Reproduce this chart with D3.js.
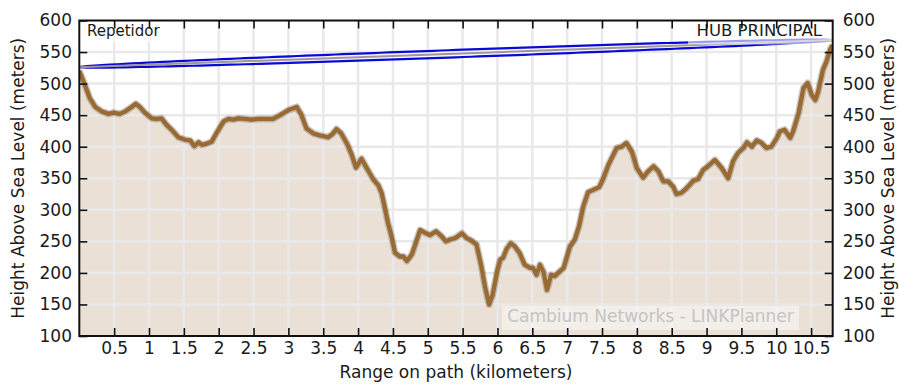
<!DOCTYPE html>
<html>
<head>
<meta charset="utf-8">
<script src="https://cdn.jsdelivr.net/npm/d3@7/dist/d3.min.js"></script>
<style>
  body { margin: 0; background: #fff; }
  text { font-family: "DejaVu Sans", sans-serif; fill: #1a1a1a; }
</style>
</head>
<body>
<svg id="chart" width="899" height="385"></svg>
<script>
// Terrain profile along the link path
const distanceKm = [0, 0.08, 0.15, 0.23, 0.32, 0.42, 0.49, 0.58, 0.66, 0.75,
  0.81, 0.87, 0.94, 1.04, 1.11, 1.18, 1.25, 1.35, 1.42, 1.52,
  1.59, 1.65, 1.71, 1.76, 1.83, 1.90, 1.97, 2.07, 2.14, 2.21,
  2.28, 2.38, 2.47, 2.57, 2.66, 2.78, 2.88, 3.00, 3.12, 3.19,
  3.26, 3.36, 3.45, 3.57, 3.64, 3.69, 3.76, 3.85, 3.91, 3.97,
  4.05, 4.12, 4.22, 4.29, 4.34, 4.39, 4.43, 4.48, 4.53, 4.60,
  4.65, 4.70, 4.77, 4.82, 4.89, 4.97, 5.03, 5.12, 5.20, 5.26,
  5.32, 5.39, 5.49, 5.56, 5.63, 5.70, 5.77, 5.82, 5.88, 5.93,
  6.00, 6.04, 6.08, 6.13, 6.19, 6.25, 6.32, 6.39, 6.47, 6.51,
  6.56, 6.61, 6.66, 6.71, 6.77, 6.82, 6.89, 6.95, 7.04, 7.11,
  7.17, 7.23, 7.30, 7.38, 7.46, 7.52, 7.59, 7.71, 7.78, 7.85,
  7.93, 8.00, 8.09, 8.16, 8.24, 8.31, 8.38, 8.45, 8.52, 8.57,
  8.64, 8.71, 8.81, 8.88, 8.95, 9.02, 9.12, 9.22, 9.31, 9.38,
  9.45, 9.53, 9.58, 9.65, 9.72, 9.79, 9.86, 9.93, 10.01, 10.05,
  10.12, 10.20, 10.24, 10.32, 10.39, 10.45, 10.51, 10.56, 10.60, 10.67,
  10.72, 10.77, 10.81];

const heightM = [520, 498, 477, 463, 456, 452, 454, 452, 456, 463,
  468, 463, 454, 445, 444, 445, 435, 424, 415, 411,
  410, 401, 407, 403, 405, 408, 422, 440, 444, 443,
  445, 444, 443, 444, 444, 444, 450, 458, 463, 450,
  429, 421, 418, 415, 421, 428, 421, 403, 387, 367,
  381, 367, 348, 339, 326, 300, 279, 258, 232, 226,
  226, 219, 229, 245, 268, 263, 260, 266, 258, 250,
  253, 255, 263, 255, 251, 245, 210, 179, 150, 165,
  205, 221, 224, 238, 247, 242, 231, 213, 208, 208,
  197, 213, 202, 173, 197, 195, 202, 208, 242, 253,
  274, 305, 328, 332, 336, 350, 371, 398, 400, 406,
  392, 366, 351, 361, 369, 361, 345, 345, 337, 325,
  327, 334, 346, 349, 363, 369, 379, 366, 350, 377,
  390, 398, 407, 400, 410, 406, 398, 400, 414, 424,
  427, 414, 424, 453, 493, 501, 482, 474, 487, 522,
  535, 553, 562];

// Link geometry
const pathLengthKm = 10.81;
const antennaHeightsM = [526, 569];   // line-of-sight ends: Repetidor, HUB PRINCIPAL
const fresnelRadiusM = 5.8;           // half-width of the clearance zone at mid-path
const endNames = ["Repetidor", "HUB PRINCIPAL"];

// Axes
const xTickValues = [0.5, 1, 1.5, 2, 2.5, 3, 3.5, 4, 4.5, 5, 5.5, 6, 6.5, 7, 7.5, 8, 8.5, 9, 9.5, 10, 10.5];
const yTickValues = [100, 150, 200, 250, 300, 350, 400, 450, 500, 550, 600];
const xTitle = "Range on path (kilometers)";
const yTitle = "Height Above Sea Level (meters)";
const watermark = "Cambium Networks - LINKPlanner";

const svg = d3.select("#chart");
const L = 79.3, R = 832.7, T = 20.5, B = 336;

const x = d3.scaleLinear().domain([0, pathLengthKm]).range([L, R]);
const y = d3.scaleLinear().domain([100, 600]).range([B, T]);

const terrain = distanceKm.map((d, i) => ({ d, h: heightM[i] }));

svg.append("defs").append("clipPath").attr("id", "plotClip")
  .append("rect").attr("x", L).attr("y", T).attr("width", R - L).attr("height", B - T);

const plot = svg.append("g").attr("clip-path", "url(#plotClip)");

// ground fill
plot.append("path")
  .datum(terrain)
  .attr("fill", "#eae0d6")
  .attr("d", d3.area().x(p => x(p.d)).y0(B).y1(p => y(p.h)));

// grid
const grid = plot.append("g").attr("stroke", "#e9e9e9").attr("stroke-width", 2.5);
grid.selectAll("line.v").data(xTickValues).join("line").attr("class", "v")
  .attr("x1", d => x(d)).attr("x2", d => x(d)).attr("y1", T).attr("y2", B);
grid.selectAll("line.h").data(yTickValues).join("line").attr("class", "h")
  .attr("x1", L).attr("x2", R).attr("y1", d => y(d)).attr("y2", d => y(d));

// terrain outline with soft halo
const terrainLine = d3.line().x(p => x(p.d)).y(p => y(p.h));
plot.append("path").datum(terrain)
  .attr("fill", "none").attr("stroke", "#8c8070").attr("stroke-opacity", 0.45)
  .attr("stroke-width", 7).attr("stroke-linejoin", "round").attr("d", terrainLine);
plot.append("path").datum(terrain)
  .attr("fill", "none").attr("stroke", "#9a6a33")
  .attr("stroke-width", 4.3).attr("stroke-linejoin", "round").attr("d", terrainLine);

// line of sight and clearance zone
const steps = d3.range(0, 101).map(i => i / 100);
const losAt = t => antennaHeightsM[0] + t * (antennaHeightsM[1] - antennaHeightsM[0]);
const zone = steps.map(t => ({
  d: t * pathLengthKm,
  c: losAt(t),
  r: fresnelRadiusM * 2 * Math.sqrt(t * (1 - t))
}));
const lens = zone.map(p => [x(p.d), y(p.c + p.r)])
  .concat(zone.slice().reverse().map(p => [x(p.d), y(p.c - p.r)]));
svg.append("path")
  .attr("d", d3.line()(lens) + "Z")
  .attr("fill", "#f4f4ff").attr("fill-opacity", 0.7)
  .attr("stroke", "#0a0ad6").attr("stroke-width", 2.2);
svg.append("line")
  .attr("x1", x(0)).attr("y1", y(antennaHeightsM[0]))
  .attr("x2", x(pathLengthKm)).attr("y2", y(antennaHeightsM[1]))
  .attr("stroke", "#a09696").attr("stroke-width", 2);

// end labels on translucent boxes
svg.append("rect").attr("x", L + 1).attr("y", T + 1).attr("width", 86).attr("height", 21)
  .attr("fill", "#fff").attr("fill-opacity", 0.6);
svg.append("text").attr("x", 87).attr("y", 36).attr("font-size", 15).text(endNames[0]);
svg.append("rect").attr("x", 688).attr("y", T + 1).attr("width", R - 688).attr("height", 23)
  .attr("fill", "#fff").attr("fill-opacity", 0.6);
svg.append("text").attr("x", 822).attr("y", 36).attr("font-size", 16.5)
  .attr("text-anchor", "end").text(endNames[1]);

// watermark
svg.append("rect").attr("x", 502).attr("y", 306).attr("width", 297).attr("height", 24)
  .attr("fill", "#fff").attr("fill-opacity", 0.45);
svg.append("text").attr("x", 650.5).attr("y", 322).attr("font-size", 17)
  .attr("text-anchor", "middle").style("fill", "#c4c4c4").text(watermark);

// axes (ticks point inward)
const fmt = d => String(d);
const styleAxis = g => {
  g.select(".domain").remove();
  g.selectAll(".tick line").attr("stroke", "#111").attr("stroke-width", 1.6);
  g.selectAll(".tick text").attr("font-size", 17).style("fill", "#1a1a1a")
    .attr("font-family", "DejaVu Sans, sans-serif");
};
svg.append("g").attr("transform", `translate(0,${B})`)
  .call(d3.axisBottom(x).tickValues(xTickValues).tickFormat(fmt).tickSize(-8).tickPadding(6.4))
  .call(styleAxis);
svg.append("g").attr("transform", `translate(0,${T})`)
  .call(d3.axisTop(x).tickValues(xTickValues).tickFormat("").tickSize(-8))
  .call(styleAxis);
svg.append("g").attr("transform", `translate(${L},0)`)
  .call(d3.axisLeft(y).tickValues(yTickValues).tickFormat(fmt).tickSize(-8).tickPadding(7.3))
  .call(styleAxis);
svg.append("g").attr("transform", `translate(${R},0)`)
  .call(d3.axisRight(y).tickValues(yTickValues).tickFormat(fmt).tickSize(-8).tickPadding(10))
  .call(styleAxis);

// frame
svg.append("rect").attr("x", L).attr("y", T).attr("width", R - L).attr("height", B - T)
  .attr("fill", "none").attr("stroke", "#111").attr("stroke-width", 2);

// titles
svg.append("text").attr("x", (L + R) / 2).attr("y", 378).attr("font-size", 17)
  .attr("text-anchor", "middle").text(xTitle);
svg.append("text").attr("transform", `translate(24,${(T + B) / 2}) rotate(-90)`)
  .attr("font-size", 17).attr("text-anchor", "middle").text(yTitle);
svg.append("text").attr("transform", `translate(894,${(T + B) / 2}) rotate(-90)`)
  .attr("font-size", 17).attr("text-anchor", "middle").text(yTitle);
</script>
</body>
</html>
